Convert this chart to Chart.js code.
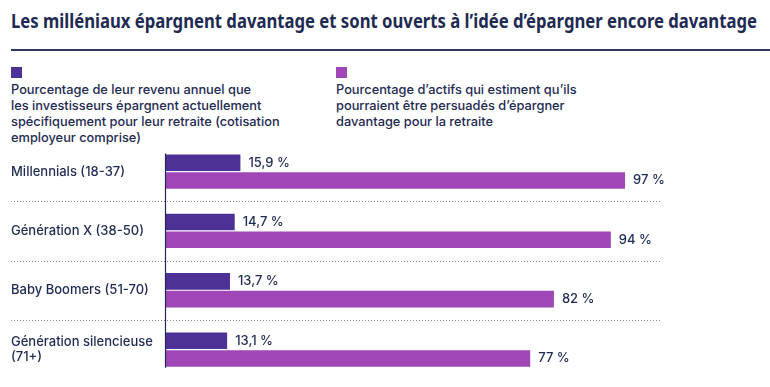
<!DOCTYPE html>
<html>
<head>
<meta charset="utf-8">
<script src="https://cdn.jsdelivr.net/npm/chart.js@4.4.1/dist/chart.umd.min.js"></script>
<style>
  body { margin:0; background:#fff; }
  #wrap { position:relative; width:770px; height:387px; overflow:hidden; font-family:Inter, Lato, sans-serif; color:#1e2a52; }
  #title { position:absolute; left:11px; top:7px; font-family:"Liberation Sans Narrow", "Noto Sans", sans-serif; font-weight:bold; font-size:19.5px; white-space:nowrap; transform-origin:left top; }
  #rule { position:absolute; left:11px; right:0; top:49px; height:2px; background:#2e3766; }
  .sw { position:absolute; top:67px; width:11px; height:11px; }
  .lg { position:absolute; top:82px; font-size:12.8px; font-weight:500; line-height:16px; }
  #c { position:absolute; left:0; top:0; }
</style>
</head>
<body>
<div id="wrap">
  <div id="title">Les milléniaux épargnent davantage et sont ouverts à l’idée d’épargner encore davantage</div>
  <div id="rule"></div>
  <div class="sw" style="left:11px;background:#4e3197"></div>
  <div class="lg" style="left:11px">Pourcentage de leur revenu annuel que<br>les investisseurs épargnent actuellement<br>spécifiquement pour leur retraite (cotisation<br>employeur comprise)</div>
  <div class="sw" style="left:336px;background:#a146b7"></div>
  <div class="lg" style="left:336px">Pourcentage d’actifs qui estiment qu’ils<br>pourraient être persuadés d’épargner<br>davantage pour la retraite</div>
  <canvas id="c" width="770" height="387"></canvas>
</div>
<script>
const categories = ['Millennials (18-37)', 'Génération X (38-50)', 'Baby Boomers (51-70)', ['Génération silencieuse', '(71+)']];
const savedShare = [15.9, 14.7, 13.7, 13.1];
const persuadable = [97, 94, 82, 77];

// fit title to the reference width
const t = document.getElementById('title');
t.style.transform = 'scaleX(' + (746 / t.scrollWidth) + ')';

const navy = '#1e2a52';

const extras = {
  id: 'extras',
  afterDatasetsDraw(chart) {
    const ctx = chart.ctx;
    const y = chart.scales.y;
    const area = chart.chartArea;
    ctx.save();
    // dotted separators between categories
    ctx.strokeStyle = '#8a8a8a';
    ctx.lineWidth = 1;
    ctx.setLineDash([1, 2]);
    for (let i = 0; i < categories.length - 1; i++) {
      const yy = Math.round((y.getPixelForValue(i) + y.getPixelForValue(i + 1)) / 2) + 0.5;
      ctx.beginPath();
      ctx.moveTo(11, yy);
      ctx.lineTo(area.right - 2, yy);
      ctx.stroke();
    }
    ctx.setLineDash([]);
    // axis line from first bar top to last bar bottom
    const m0 = chart.getDatasetMeta(0).data[0];
    const m1 = chart.getDatasetMeta(1).data[categories.length - 1];
    ctx.strokeStyle = navy;
    ctx.lineWidth = 1.2;
    ctx.beginPath();
    ctx.moveTo(area.left + 0.5, m0.y - m0.height / 2 - 1);
    ctx.lineTo(area.left + 0.5, m1.y + m1.height / 2 + 1);
    ctx.stroke();
    // value labels
    ctx.fillStyle = navy;
    ctx.font = '500 13px Inter, Lato, sans-serif';
    ctx.textBaseline = 'middle';
    chart.data.datasets.forEach((ds, di) => {
      chart.getDatasetMeta(di).data.forEach((bar, i) => {
        const v = ds.data[i];
        const txt = (Number.isInteger(v) ? String(v) : v.toFixed(1).replace('.', ',')) + ' %';
        ctx.fillText(txt, bar.x + 8, bar.y);
      });
    });
    ctx.restore();
  }
};

new Chart(document.getElementById('c'), {
  type: 'bar',
  data: {
    labels: categories,
    datasets: [
      { data: savedShare, backgroundColor: '#4e3197' },
      { data: persuadable, backgroundColor: '#a146b7' }
    ]
  },
  options: {
    indexAxis: 'y',
    responsive: false,
    animation: false,
    layout: { padding: { left: 11, right: 107, top: 142, bottom: 0 } },
    categoryPercentage: 0.6,
    barPercentage: 0.93,
    plugins: { legend: { display: false }, tooltip: { enabled: false } },
    scales: {
      x: { display: false, min: 0, max: 105 },
      y: {
        grid: { display: false },
        border: { display: false },
        ticks: { crossAlign: 'far', color: navy, font: { family: 'Inter, Lato, sans-serif', size: 13, weight: '500' }, padding: 0 },
        afterFit(scale) { scale.width = 154; }
      }
    }
  },
  plugins: [extras]
});
</script>
</body>
</html>
